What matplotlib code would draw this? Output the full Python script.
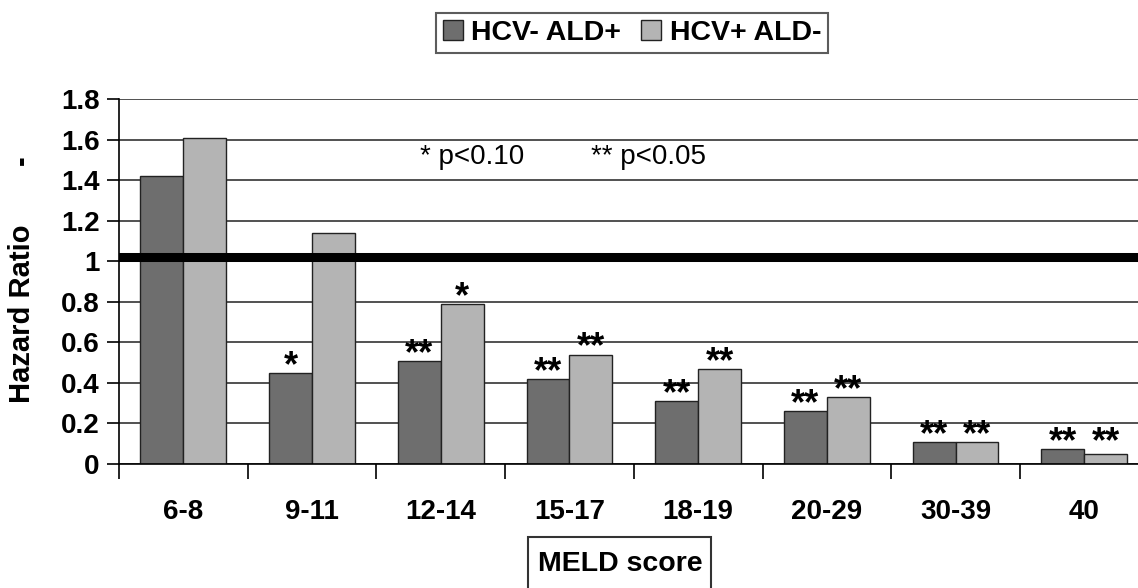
import numpy as np
import matplotlib
matplotlib.use("Agg")
import matplotlib.pyplot as plt
from matplotlib.patches import Patch, Rectangle

plt.rcParams['font.family'] = ['Liberation Sans', 'DejaVu Sans']

# data
meld = ["6-8", "9-11", "12-14", "15-17", "18-19", "20-29", "30-39", "40"]
hcv_neg_ald_pos = [1.42, 0.45, 0.51, 0.42, 0.31, 0.26, 0.11, 0.075]
hcv_pos_ald_neg = [1.61, 1.14, 0.79, 0.54, 0.47, 0.33, 0.11, 0.05]
stars_dark = ["", "*", "**", "**", "**", "**", "**", "**"]
stars_light = ["", "", "*", "**", "**", "**", "**", "**"]
ref_line = 1.02

dark = "#6e6e6e"
light = "#b4b4b4"

W, H = 1138, 588
fig = plt.figure(figsize=(W / 100, H / 100), dpi=100)
ax = fig.add_axes([119 / W, 1 - 464 / H, 1 - 119 / W, (464 - 99) / H])

x = np.arange(len(meld))
w = 1 / 3
ax.bar(x - w / 2, hcv_neg_ald_pos, w, color=dark, edgecolor="#222222", linewidth=1, zorder=2)
ax.bar(x + w / 2, hcv_pos_ald_neg, w, color=light, edgecolor="#222222", linewidth=1, zorder=2)

# significance stars
for i in range(len(meld)):
    if stars_dark[i]:
        ax.annotate(stars_dark[i], (x[i] - w / 2, hcv_neg_ald_pos[i]), xytext=(0, -8),
                    textcoords="offset points", ha="center", va="bottom", fontsize=26,
                    fontweight="bold", zorder=4)
    if stars_light[i]:
        ax.annotate(stars_light[i], (x[i] + w / 2, max(hcv_pos_ald_neg[i], hcv_neg_ald_pos[i])),
                    xytext=(0, -8), textcoords="offset points", ha="center", va="bottom",
                    fontsize=26, fontweight="bold", zorder=4)

ax.axhline(ref_line, xmin=0.004, xmax=1, color="black", linewidth=6.5, zorder=3)

ax.set_ylim(0, 1.8)
ax.set_xlim(-0.5, -0.5 + (W - 119) / 128.7)
ax.set_yticks(np.arange(0, 1.81, 0.2))
ax.set_yticklabels(["0", "0.2", "0.4", "0.6", "0.8", "1", "1.2", "1.4", "1.6", "1.8"],
                   fontsize=20, fontweight="bold")
ax.yaxis.grid(True, color="#333333", linewidth=1.2, zorder=0)
ax.set_axisbelow(True)
ax.tick_params(axis="y", direction="out", length=9, width=1.2, pad=5)

ax.set_xticks(np.arange(len(meld)) - 0.5)
ax.set_xticklabels([])
ax.tick_params(axis="x", which="major", direction="out", length=11, width=1.2)
ax.set_xticks(x, minor=True)
ax.set_xticklabels(meld, minor=True, fontsize=20, fontweight="bold")
ax.tick_params(axis="x", which="minor", length=0, pad=25)

for s in ["top", "right"]:
    ax.spines[s].set_visible(False)
for s in ["left", "bottom"]:
    ax.spines[s].set_linewidth(1.2)

ax.text(1.84, 1.515, "* p<0.10", ha="left", va="center", fontsize=20)
ax.text(3.17, 1.515, "** p<0.05", ha="left", va="center", fontsize=20)

fig.text(22 / W, 1 - 314 / H, "Hazard Ratio", rotation=90, ha="center", va="center",
         fontsize=21, fontweight="bold")
fig.text(22 / W, 1 - 160 / H, "-", rotation=90, ha="center", va="center",
         fontsize=21, fontweight="bold")

# x axis title in an open-bottom box
fig.patches.append(Rectangle((528 / W, -0.05), (711 - 528) / W, 0.05 + (H - 537) / H,
                             transform=fig.transFigure, facecolor="none", edgecolor="#333333",
                             linewidth=1.5))
fig.text(620 / W, 1 - 564 / H, "MELD score", ha="center", va="center", fontsize=20.5,
         fontweight="bold")

handles = [Patch(facecolor=dark, edgecolor="#222222"), Patch(facecolor=light, edgecolor="#222222")]
leg = fig.legend(handles, ["HCV- ALD+", "HCV+ ALD-"], loc="center",
                 bbox_to_anchor=(632 / W, 1 - 33 / H), ncol=2, frameon=True, fancybox=False,
                 prop={"weight": "bold", "size": 20.5}, handlelength=0.7, handleheight=0.7,
                 handletextpad=0.3, columnspacing=0.7, borderpad=0.25, borderaxespad=0)
leg.get_frame().set_edgecolor("#333333")
leg.get_frame().set_linewidth(1.5)

fig.savefig("out.png", dpi=100)
